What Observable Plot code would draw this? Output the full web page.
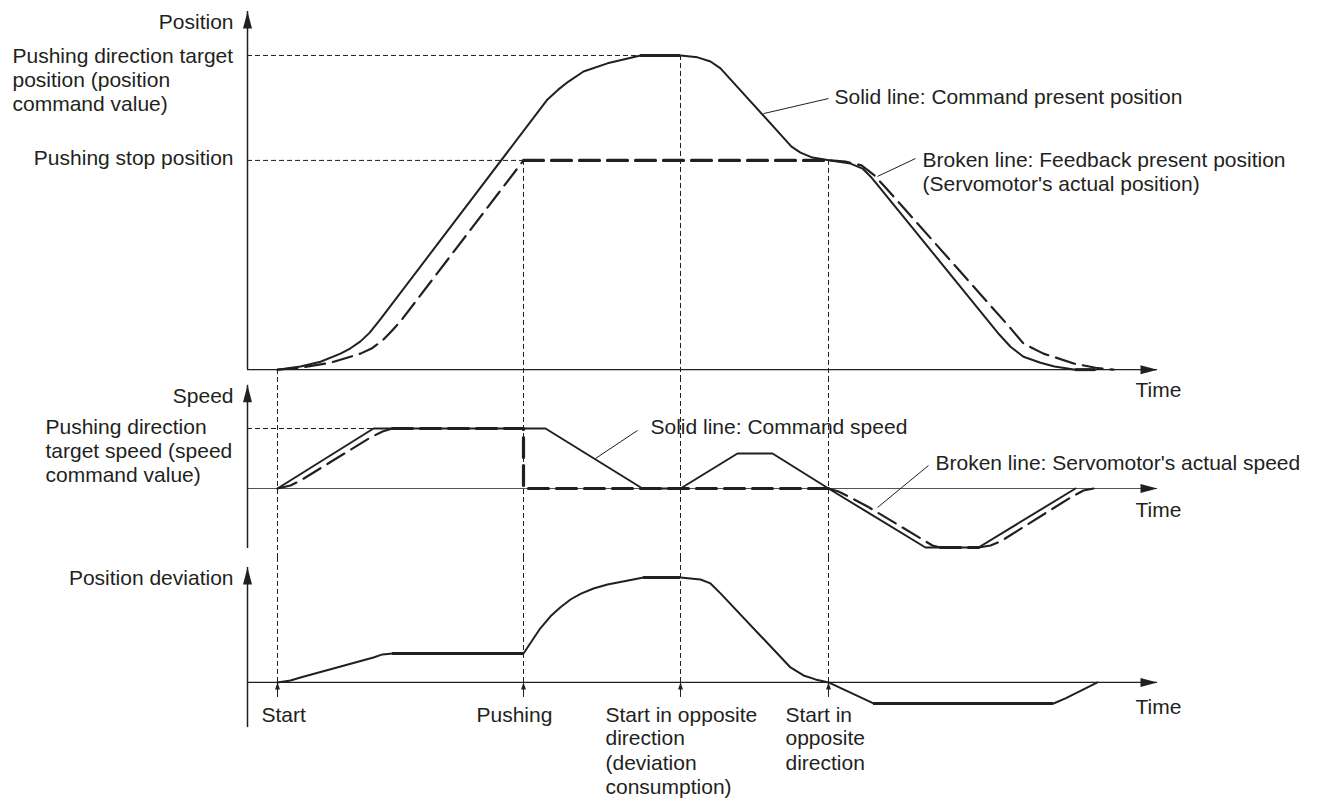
<!DOCTYPE html>
<html>
<head>
<meta charset="utf-8">
<script src="https://cdn.jsdelivr.net/npm/d3@7"></script>
<script src="https://cdn.jsdelivr.net/npm/@observablehq/plot@0.6"></script>
<style>
  html, body { margin: 0; padding: 0; background: #fff; overflow: hidden; }
  #chart svg { display: block; overflow: visible; position: relative; }
</style>
</head>
<body>
<div id="chart"></div>
<script>
// ---------------- DATA (time in arbitrary units, values in % of target) ----------------
const eventNames = ["Start", "Pushing", "Start in opposite\ndirection\n(deviation\nconsumption)", "Start in\nopposite\ndirection"];
const eventTimes = [3.0, 27.6, 43.3, 58.1];
const timeEnd = 91;

const positionTarget = 100;
const positionStop = 66.6;
const eventPositionLevels = [0, positionStop, positionTarget, positionStop];

const commandPosT = [3.0, 5.3, 7.3, 9.3, 10.3, 11.3, 12.2, 13.3, 30.0, 31.1, 32.1, 33.6, 36.0, 39.3, 43.3, 45.0, 46.3, 47.3, 54.4, 55.3, 56.5, 58.3, 60.3, 61.5, 62.3, 63.0, 75.2, 76.3, 77.6, 79.3, 80.7, 82.8, 84.8];
const commandPosV = [0, 1.0, 2.5, 5.1, 6.8, 9.0, 11.7, 16.1, 86.0, 89.2, 91.7, 94.9, 97.5, 100, 100, 99.4, 98.1, 95.9, 71.0, 69.1, 67.5, 66.6, 65.6, 64.0, 61.5, 58.8, 11.1, 7.3, 4.1, 2.2, 1.0, 0, 0];

const feedbackPosT = [3.0, 5.3, 8.3, 11.3, 12.5, 13.5, 14.4, 15.4, 27.6, 58.3, 59.8, 61.4, 62.6, 63.8, 76.0, 77.6, 79.6, 82.7, 84.8, 86.6];
const feedbackPosV = [0, 0.6, 2.2, 5.1, 6.9, 9.3, 12.2, 15.8, 66.6, 66.6, 66.2, 65.0, 62.1, 58.0, 14.3, 8.3, 5.1, 1.9, 0.6, 0];

const speedTarget = 100;
const commandSpeedT = [3.0, 12.6, 29.8, 39.5, 43.3, 49.0, 52.5, 58.1, 67.8, 73.1, 82.8];
const commandSpeedV = [0, 100, 100, 0, 0, 58.3, 58.3, 0, -98.3, -98.3, 0];

const actualSpeedT = [3.0, 4.3, 5.3, 12.3, 13.5, 14.5, 27.6, 27.6, 58.1, 59.1, 60.3, 62.0, 68.5, 69.3, 73.1, 74.3, 75.3, 82.3, 83.6, 84.6];
const actualSpeedV = [0, 5, 13.3, 85, 95, 100, 100, 0, 0, -5, -15, -30, -95, -98.3, -98.3, -95, -88.3, -15, -3.3, 0];

const deviationT = [3.0, 4.3, 5.3, 12.6, 13.5, 14.5, 27.6, 28.4, 29.2, 30.3, 31.3, 32.3, 33.3, 34.6, 36.0, 39.6, 43.3, 45.3, 46.3, 47.3, 54.3, 55.6, 56.8, 58.1, 62.6, 80.6, 81.8, 85.0];
const deviationV = [0, 1.9, 4.8, 23.8, 26.7, 27.6, 27.6, 39.0, 50.5, 63.0, 71.7, 79.0, 84.4, 89.5, 93.3, 100, 100, 98.1, 94.3, 84.8, 14.3, 6.7, 2.9, 0, -20, -20, -15.2, 0];

// annotation texts and anchor values
const posNotes = ["Solid line: Command present position", "Broken line: Feedback present position\n(Servomotor's actual position)"];
const posNoteT = [58.7, 67.5];
const posNoteV = [86.9, 63.2];
const posLeaderT1 = [58.1, 66.8], posLeaderV1 = [86.3, 67.2];
const posLeaderT2 = [51.6, 63.0], posLeaderV2 = [81.5, 61.5];

const speedNotes = ["Solid line: Command speed", "Broken line: Servomotor's actual speed"];
const speedNoteT = [40.3, 68.8];
const speedNoteV = [101.7, 41.7];
const speedLeaderT1 = [39.0, 68.1], speedLeaderV1 = [96.7, 38.3];
const speedLeaderT2 = [34.8, 63.0], speedLeaderV2 = [50, -31.7];

// ---------------- LAYOUT ----------------
const INK = "#231f20";
const FONT = "'Liberation Sans', Arial, Helvetica, sans-serif";
const FS = 21;
const W = 1317, ML = 247, MR = 160;
const yDom1 = [-2.5, 117.5], H1 = 377, yAxisTop1 = 114;
const yDom2 = [-115, 185], H2 = 180, yAxisTop2 = 172, yAxisBottom2 = -100;
const yDom3 = [-110.5, 119], H3 = 241, yAxisTop3 = 109.5, yAxisBottom3 = -43, tickTail3 = -14.3;
const eventLabelDx = [-16, -47, -75, -43];
const DASH = "20,8", REFDASH = "5,3";

const rows = (T, V) => T.map((t, i) => ({t, v: V[i]}));
const flats = (d) => {
  const out = [];
  for (let i = 0; i < d.length - 1; i++) if (d[i].v === d[i + 1].v) out.push({t1: d[i].t, t2: d[i + 1].t, v: d[i].v});
  return out;
};
// split a series into runs of "straight" (horizontal/vertical) and sloped segments
const pieces = (d) => {
  const out = [];
  let cur = null;
  for (let i = 0; i < d.length - 1; i++) {
    const straight = d[i].v === d[i + 1].v || d[i].t === d[i + 1].t;
    if (!cur || cur.straight !== straight) { cur = {straight, pts: [d[i]]}; out.push(cur); }
    cur.pts.push(d[i + 1]);
  }
  return out;
};
const dashedLine = (d, thin, thick) => pieces(d).map((p) =>
  Plot.line(p.pts, {x: "t", y: "v", stroke: INK, strokeWidth: p.straight ? thick : thin, strokeDasharray: DASH}));

const headRight = {draw(c) { c.moveTo(0, 0); c.lineTo(-17, -4.5); c.lineTo(-17, 4.5); c.closePath(); }};
const headUp = {draw(c) { c.moveTo(0, 0); c.lineTo(-4.5, 17); c.lineTo(4.5, 17); c.closePath(); }};
const smallUp = {draw(c) { c.moveTo(0, 0); c.lineTo(-2.5, 7); c.lineTo(2.5, 7); c.closePath(); }};

const events = eventTimes.map((t, i) => ({t, name: eventNames[i], level: eventPositionLevels[i]}));

function axes(yTop, yBottom, label, timeDy, withXAxis = true) {
  return [
    withXAxis ? Plot.ruleY([0], {stroke: INK, strokeWidth: 1.3}) : null,
    Plot.ruleX([{t: 0, y1: yBottom, y2: yTop}], {x: "t", y1: "y1", y2: "y2", stroke: INK, strokeWidth: 1.5}),
    Plot.dot([{t: 0, v: yTop}], {x: "t", y: "v", symbol: headUp, fill: INK, stroke: null}),
    Plot.dot([{t: timeEnd, v: 0}], {x: "t", y: "v", symbol: headRight, fill: INK, stroke: null}),
    Plot.text([{t: 0, v: yTop, s: label}], {x: "t", y: "v", text: "s", textAnchor: "end", dx: -14, dy: 11, fill: INK, fontSize: FS}),
    Plot.text([{t: timeEnd, v: 0, s: "Time"}], {x: "t", y: "v", text: "s", textAnchor: "middle", dx: 1, dy: timeDy, fill: INK, fontSize: FS})
  ];
}

function panel(height, yDomain, marks) {
  return Plot.plot({
    width: W, height, marginLeft: ML, marginRight: MR, marginTop: 0, marginBottom: 0,
    x: {domain: [0, timeEnd], axis: null},
    y: {domain: yDomain, axis: null},
    style: {fontFamily: FONT, fontSize: FS + "px", color: INK, background: "transparent", overflow: "visible"},
    marks
  });
}

const cmdPos = rows(commandPosT, commandPosV);
const fbPos = rows(feedbackPosT, feedbackPosV);
const cmdSpd = rows(commandSpeedT, commandSpeedV);
const actSpd = rows(actualSpeedT, actualSpeedV);
const dev = rows(deviationT, deviationV);

// ---------------- PANEL 1: position ----------------
const p1 = panel(H1, yDom1, [
  Plot.ruleY([{v: positionTarget, t2: eventTimes[2]}, {v: positionStop, t2: eventTimes[1]}], {y: "v", x1: 0, x2: "t2", stroke: INK, strokeWidth: 1, strokeDasharray: REFDASH}),
  Plot.ruleX(events, {x: "t", y1: "level", y2: () => yDom1[0], stroke: INK, strokeWidth: 1, strokeDasharray: REFDASH}),
  ...axes(yAxisTop1, 0, "Position", 21),
  ...dashedLine(fbPos, 2.2, 3.2),
  Plot.line(cmdPos, {x: "t", y: "v", stroke: INK, strokeWidth: 2}),
  Plot.ruleY(flats(cmdPos), {x1: "t1", x2: "t2", y: "v", stroke: INK, strokeWidth: 3}),
  Plot.text([{t: 0, v: positionTarget, s: "Pushing direction target\nposition (position\ncommand value)"}], {x: "t", y: "v", text: "s", textAnchor: "start", lineAnchor: "middle", lineHeight: 1.143, dx: -235, dy: 24, fill: INK, fontSize: FS}),
  Plot.text([{t: 0, v: positionStop, s: "Pushing stop position"}], {x: "t", y: "v", text: "s", textAnchor: "end", dx: -14, dy: -2, fill: INK, fontSize: FS}),
  Plot.link(posNotes.map((s, i) => ({x1: posLeaderT1[i], y1: posLeaderV1[i], x2: posLeaderT2[i], y2: posLeaderV2[i]})), {x1: "x1", y1: "y1", x2: "x2", y2: "y2", stroke: INK, strokeWidth: 1}),
  Plot.text(posNotes.map((s, i) => ({s, t: posNoteT[i], v: posNoteV[i]})), {x: "t", y: "v", text: "s", textAnchor: "start", lineAnchor: "middle", lineHeight: 1.143, fill: INK, fontSize: FS})
]);

// ---------------- PANEL 2: speed ----------------
const p2 = panel(H2, yDom2, [
  Plot.ruleY([{v: speedTarget, t2: commandSpeedT[1]}], {y: "v", x1: 0, x2: "t2", stroke: INK, strokeWidth: 1, strokeDasharray: REFDASH}),
  Plot.ruleX(events, {x: "t", stroke: INK, strokeWidth: 1, strokeDasharray: REFDASH}),
  Plot.ruleY([0], {stroke: "#555", strokeWidth: 1.2}),
  ...axes(yAxisTop2, yAxisBottom2, "Speed", 22, false),
  ...dashedLine(actSpd, 2.2, 3.2),
  Plot.line(cmdSpd, {x: "t", y: "v", stroke: INK, strokeWidth: 2}),
  Plot.text([{t: 0, v: speedTarget, s: "Pushing direction\ntarget speed (speed\ncommand value)"}], {x: "t", y: "v", text: "s", textAnchor: "start", lineAnchor: "middle", lineHeight: 1.143, dx: -202, dy: 22, fill: INK, fontSize: FS}),
  Plot.link(speedNotes.map((s, i) => ({x1: speedLeaderT1[i], y1: speedLeaderV1[i], x2: speedLeaderT2[i], y2: speedLeaderV2[i]})), {x1: "x1", y1: "y1", x2: "x2", y2: "y2", stroke: INK, strokeWidth: 1}),
  Plot.text(speedNotes.map((s, i) => ({s, t: speedNoteT[i], v: speedNoteV[i]})), {x: "t", y: "v", text: "s", textAnchor: "start", fill: INK, fontSize: FS})
]);

// ---------------- PANEL 3: position deviation ----------------
const p3 = panel(H3, yDom3, [
  Plot.ruleX(events, {x: "t", y1: () => 0, y2: () => yDom3[1], stroke: INK, strokeWidth: 1, strokeDasharray: REFDASH}),
  ...axes(yAxisTop3, yAxisBottom3, "Position deviation", 25),
  Plot.line(dev, {x: "t", y: "v", stroke: INK, strokeWidth: 2}),
  Plot.ruleY(flats(dev), {x1: "t1", x2: "t2", y: "v", stroke: INK, strokeWidth: 3}),
  Plot.ruleX(events, {x: "t", y1: () => tickTail3, y2: () => 0, stroke: INK, strokeWidth: 1}),
  Plot.dot(events, {x: "t", y: () => 0, symbol: smallUp, fill: INK, stroke: null}),
  ...events.map((e, i) => Plot.text([e], {x: "t", y: () => 0, text: "name", textAnchor: "start", lineAnchor: "top", lineHeight: 1.143, dx: eventLabelDx[i], dy: 22, fill: INK, fontSize: FS}))
]);

const root = document.getElementById("chart");
root.append(p1, p2, p3);
</script>
</body>
</html>
